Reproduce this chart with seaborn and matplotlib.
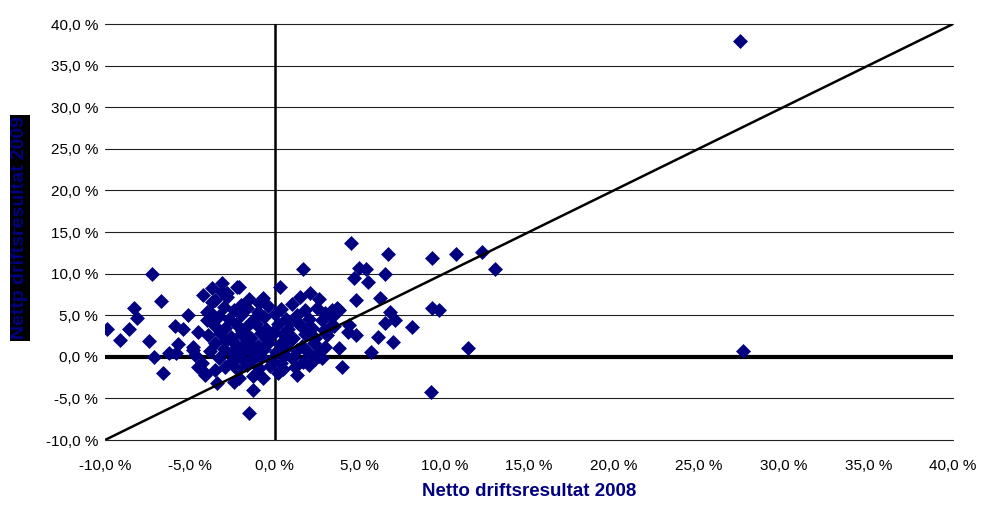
import matplotlib
matplotlib.use("Agg")
import matplotlib.pyplot as plt
import seaborn as sns
import pandas as pd

# ---- data (percent) ----
x2008 = [
    # left tail
    -9.9, -9.1, -8.6, -8.3, -8.1, -7.4, -7.2, -7.1, -6.7, -6.6, -6.2, -5.9, -5.8, -5.7,
    -5.4, -5.1, -4.8, -4.7, -4.5, -4.3, -4.2, -4.1, -3.8, -3.8, -3.7, -3.5, -3.5, -3.4,
    -3.1, -3.1, -2.1, -2.8, -3.7, -4.0, -4.0, -4.8, -4.5, -4.1, -1.3, -1.5, -0.7, 0.3,
    # central cluster
    -2.8, -2.2, -1.5, -0.9, 1.5, 2.1, 2.6, -2.0,
    -3.0, -2.4, -1.6, -1.0, -0.4, 0.4, 1.0, 1.8, 2.5, 3.0,
    -3.3, -2.7, -2.0, -1.3, -0.6, 0.0, 0.7, 1.3, 2.0, 2.8, 3.4,
    -3.6, -2.9, -2.3, -1.7, -1.1, -0.5, 0.2, 0.8, 1.5, 2.2, 2.9, 3.5,
    -3.9, -3.2, -2.6, -2.0, -1.4, -0.8, -0.2, 0.5, 1.1, 1.8, 2.4, 3.1,
    -3.5, -2.9, -2.3, -1.7, -1.0, -0.4, 0.3, 0.9, 1.6, 2.3, 3.0,
    -3.8, -3.0, -2.5, -1.8, -1.2, -0.6, 0.1, 0.6, 1.3, 2.0, 2.7,
    -3.3, -2.6, -2.0, -1.4, -0.8, -0.2, 0.4, 1.0, 1.7, 2.4,
    -2.9, -2.2, -1.6, -0.9, -0.3, 0.5, 1.2, 2.0,
    -2.4, -2.1, -0.7, 1.3, 0.2, -1.3,
    -2.5, -1.9, -1.2, -0.1, 0.9, 1.9, -0.5, 0.7, -1.6, 1.4, 2.6, -2.3,
    # right of cluster
    1.65, 4.5, 6.7, 5.0, 5.4, 4.7, 5.5, 6.5, 4.8, 6.2, 6.8, 7.1, 6.5, 8.1, 6.1, 7.0,
    4.8, 5.7, 3.8, 4.0, 3.4, 3.8, 4.4, 3.7, 2.8, 4.3, 3.2,
    # far right
    9.3, 10.7, 12.2, 13.0, 9.3, 9.7, 11.4, 9.2, 27.45, 27.6,
]
y2009 = [
    3.4, 2.0, 3.4, 5.9, 4.7, 1.9, 9.9, 0.0, 6.7, -2.0, 0.5, 3.7, 0.5, 1.5,
    3.4, 5.0, 1.2, 0.2, 3.0, -0.7, 7.4, -1.9, 5.4, 4.4, 8.3, 6.8, -1.6, -3.1,
    8.9, 7.8, 8.4, 7.7, 6.6, 5.4, 4.4, 0.8, -1.2, -2.2, -4.0, -6.8, 7.1, 8.4,
    7.2, 8.4, 7.0, 6.5, 7.2, 7.7, 6.9, 6.2,
    6.0, 5.6, 5.9, 5.4, 6.1, 5.8, 6.3, 5.6, 5.9, 5.3,
    4.9, 4.6, 5.0, 4.4, 4.8, 5.2, 4.5, 5.0, 4.6, 4.4, 4.8,
    3.8, 3.5, 4.0, 3.6, 3.9, 3.4, 3.9, 3.3, 3.8, 3.5, 3.2, 3.7,
    2.6, 2.9, 2.4, 2.8, 2.3, 2.9, 2.5, 2.8, 2.2, 2.7, 2.3, 2.6,
    1.6, 1.9, 1.4, 1.8, 1.3, 1.7, 1.5, 1.9, 1.3, 1.6, 1.2,
    0.7, 0.9, 0.4, 0.8, 0.3, 0.9, 0.6, 0.2, 0.8, 0.4, 0.7,
    -0.2, -0.6, -0.1, -0.5, 0.0, -0.4, -0.8, -0.2, -0.6, -0.3,
    -1.2, -1.5, -1.0, -1.4, -1.1, -1.5, -1.2, -1.0,
    -3.0, -2.5, -2.5, -2.2, -2.0, -2.3,
    2.0, 3.1, 1.0, 3.0, 4.2, 3.3, 2.1, 1.1, 2.6, 4.1, 0.1, 1.0,
    10.5, 13.7, 12.3, 10.7, 10.5, 9.5, 9.0, 9.9, 6.8, 7.1, 5.4, 4.4, 4.1, 3.6, 2.4, 1.8,
    2.6, 0.6, 1.1, -1.2, 5.6, 5.6, 3.8, 5.9, -0.1, 3.0, 3.5,
    11.9, 12.3, 12.6, 10.5, 5.9, 5.6, 1.0, -4.2, 38.0, 0.7,
]
diag_x = [-10, 40]
diag_y = [-10, 40]
tick_vals = [-10, -5, 0, 5, 10, 15, 20, 25, 30, 35, 40]
tick_labels = ["-10,0 %", "-5,0 %", "0,0 %", "5,0 %", "10,0 %", "15,0 %",
               "20,0 %", "25,0 %", "30,0 %", "35,0 %", "40,0 %"]
x_title = "Netto driftsresultat 2008"
y_title = "Nettp driftsresultat 2009"

df = pd.DataFrame({"x": x2008, "y": y2009})

sns.set_theme(style="white")
plt.rcParams["font.family"] = ["Liberation Sans", "DejaVu Sans"]

W, H = 983, 507
fig = plt.figure(figsize=(W / 100, H / 100), dpi=100)
ax = fig.add_axes([105 / W, 1 - 440 / H, 848 / W, 416 / H])

ax.set_xlim(-10, 40)
ax.set_ylim(-10, 40)
ax.set_xticks(tick_vals)
ax.set_xticklabels(tick_labels)
ax.set_yticks(tick_vals)
ax.set_yticklabels(tick_labels)
ax.tick_params(axis="both", length=0, labelsize=11, colors="black")
ax.tick_params(axis="x", pad=14)
ax.tick_params(axis="y", pad=5)
for s in ax.spines.values():
    s.set_visible(False)

ax.grid(False)
for v in tick_vals:
    if v != 0:
        ax.axhline(v, color="#202020", linewidth=0.8, zorder=0, clip_on=False)
ax.axhline(0, color="black", linewidth=3.0, zorder=1, solid_capstyle="round")
ax.axvline(0, color="black", linewidth=1.8, zorder=1)

sns.scatterplot(data=df, x="x", y="y", marker="D", color="#000080", s=58,
                linewidth=0, ax=ax, zorder=3)
sns.lineplot(x=diag_x, y=diag_y, color="black", linewidth=1.8, ax=ax, zorder=4)

ax.set_xlabel(x_title, fontsize=13.5, fontweight="bold", color="#000080", labelpad=7)
ax.set_ylabel("")
fig.text(20 / W, 1 - 228 / H, y_title, rotation=90, ha="center", va="center",
         fontsize=14, fontweight="bold", color="#000080",
         bbox=dict(facecolor="black", edgecolor="none", pad=1.0))

fig.savefig("out.png", dpi=100)
